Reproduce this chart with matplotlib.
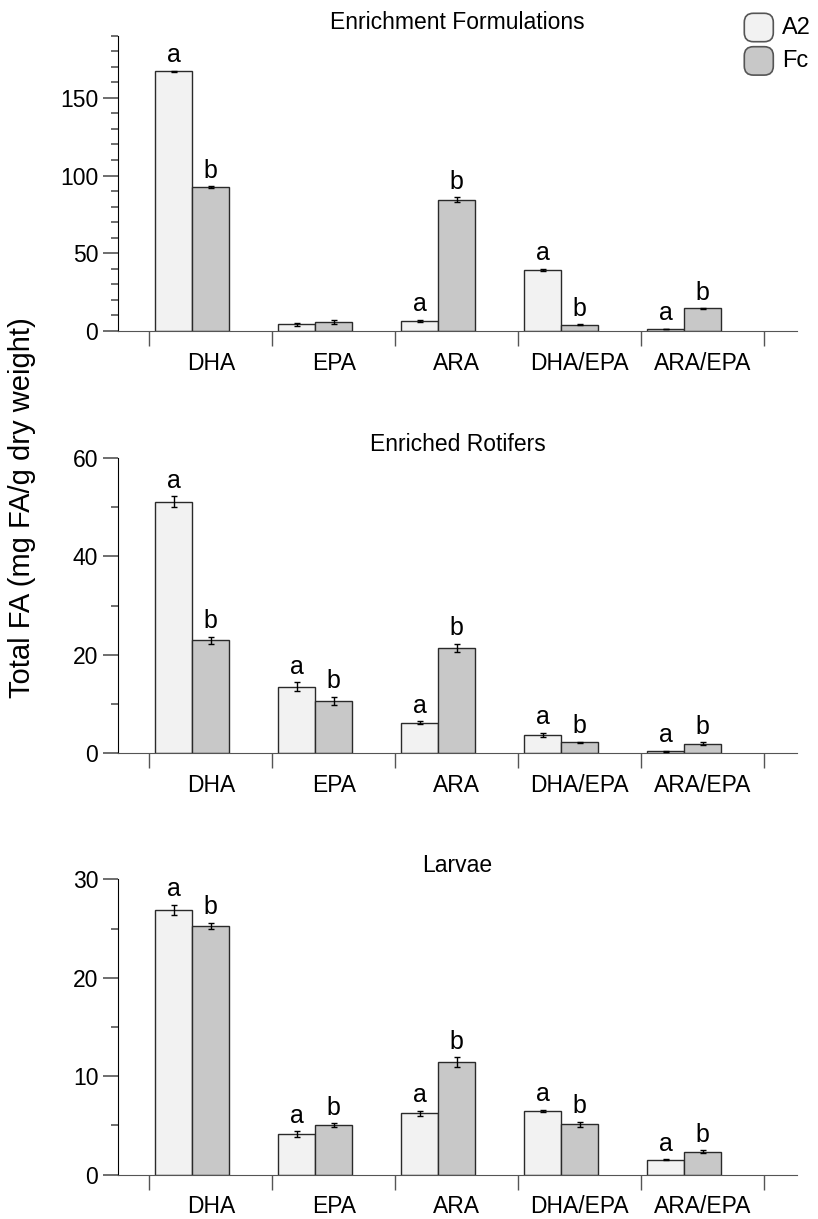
import numpy as np
import matplotlib.pyplot as plt
from matplotlib.patches import FancyBboxPatch
from matplotlib.ticker import MultipleLocator, FixedLocator

plt.rcParams["font.family"] = ["Liberation Sans", "DejaVu Sans"]

categories = ["DHA", "EPA", "ARA", "DHA/EPA", "ARA/EPA"]
groups = ["A2", "Fc"]
titles = ["Enrichment Formulations", "Enriched Rotifers", "Larvae"]

# Enrichment formulations
form_a2 = [167.0, 4.2, 6.5, 39.5, 1.2]
form_a2_err = [0.5, 1.0, 0.6, 0.6, 0.2]
form_fc = [92.6, 6.0, 84.5, 4.0, 14.5]
form_fc_err = [0.6, 1.2, 1.5, 0.2, 0.3]
form_a2_letters = ["a", "", "a", "a", "a"]
form_fc_letters = ["b", "", "b", "b", "b"]

# Enriched rotifers
rot_a2 = [51.1, 13.5, 6.2, 3.8, 0.4]
rot_a2_err = [1.1, 0.9, 0.3, 0.4, 0.1]
rot_fc = [22.9, 10.7, 21.4, 2.2, 1.9]
rot_fc_err = [0.8, 0.8, 0.8, 0.1, 0.3]
rot_a2_letters = ["a", "a", "a", "a", "a"]
rot_fc_letters = ["b", "b", "b", "b", "b"]

# Larvae
lar_a2 = [26.9, 4.1, 6.2, 6.5, 1.5]
lar_a2_err = [0.5, 0.3, 0.3, 0.1, 0.05]
lar_fc = [25.3, 5.0, 11.4, 5.1, 2.3]
lar_fc_err = [0.3, 0.2, 0.5, 0.25, 0.15]
lar_a2_letters = ["a", "a", "a", "a", "a"]
lar_fc_letters = ["b", "b", "b", "b", "b"]

ylims = [190, 60, 30]
major_steps = [50, 20, 10]
minor_steps = [10, 10, 5]

panels = [
    (form_a2, form_a2_err, form_fc, form_fc_err, form_a2_letters, form_fc_letters),
    (rot_a2, rot_a2_err, rot_fc, rot_fc_err, rot_a2_letters, rot_fc_letters),
    (lar_a2, lar_a2_err, lar_fc, lar_fc_err, lar_a2_letters, lar_fc_letters),
]

W, H = 818, 1219
fig = plt.figure(figsize=(W / 100, H / 100), dpi=100)

left = 118.3 / W
width = (796.7 - 118.3) / W
boxes = [(331.0, 35.7), (753.3, 457.7), (1174.5, 879.3)]

col_a2 = "#f2f2f2"
col_fc = "#c8c8c8"
edge = "#2a2a2a"
grey = "#555555"
bw = 0.30
x = np.arange(len(categories))

for i, (a2, a2e, fc, fce, la, lb) in enumerate(panels):
    y0, y1 = boxes[i]
    ax = fig.add_axes([left, 1 - y0 / H, width, (y0 - y1) / H])
    ax.bar(x - bw, a2, bw, color=col_a2, edgecolor=edge, linewidth=1, zorder=2)
    ax.bar(x, fc, bw, color=col_fc, edgecolor=edge, linewidth=1, zorder=2)
    ax.errorbar(x - bw, a2, yerr=a2e, fmt="none", ecolor="black",
                elinewidth=1, capsize=2, capthick=1, zorder=3)
    ax.errorbar(x, fc, yerr=fce, fmt="none", ecolor="black",
                elinewidth=1, capsize=2, capthick=1, zorder=3)
    for xi, v, e, t in zip(x - bw, a2, a2e, la):
        if t:
            ax.annotate(t, (xi, v + e), xytext=(0, 2.5), textcoords="offset points",
                        ha="center", va="bottom", fontsize=18)
    for xi, v, e, t in zip(x, fc, fce, lb):
        if t:
            ax.annotate(t, (xi, v + e), xytext=(0, 2.5), textcoords="offset points",
                        ha="center", va="bottom", fontsize=18)

    ax.set_xlim(-0.752, 4.763)
    ax.set_ylim(0, ylims[i])
    ax.spines["top"].set_visible(False)
    ax.spines["right"].set_visible(False)
    ax.spines["bottom"].set_color(grey)
    ax.spines["left"].set_color("black")

    ax.set_xticks(x)
    ax.set_xticklabels(categories, fontsize=16.5)
    ax.xaxis.set_minor_locator(FixedLocator(np.arange(-0.5, 5, 1.0)))
    ax.tick_params(axis="x", which="major", length=0, pad=14.8)
    ax.tick_params(axis="x", which="minor", length=10.8, width=1, color=grey)

    ax.yaxis.set_major_locator(MultipleLocator(major_steps[i]))
    ax.yaxis.set_minor_locator(MultipleLocator(minor_steps[i]))
    ax.tick_params(axis="y", which="major", length=10.8, width=1.2, color=grey,
                   pad=3.6, labelsize=16.5)
    ax.tick_params(axis="y", which="minor", length=5.3, width=1.2, color=grey)
    ax.set_title(titles[i], fontsize=16.5, pad=5)

fig.text(22 / W, 1 - 508 / H, "Total FA (mg FA/g dry weight)", rotation=90,
         ha="center", va="center", fontsize=21)

# legend boxes
for j, (lab, c) in enumerate(zip(groups, [col_a2, col_fc])):
    yt = 13.3 + j * 33.4
    box = FancyBboxPatch((744.3 / W, 1 - (yt + 28.4) / H), 29 / W, 28.4 / H,
                         boxstyle="round,pad=0,rounding_size=0.011",
                         transform=fig.transFigure, facecolor=c,
                         edgecolor=grey, linewidth=1.2, mutation_aspect=W / H)
    fig.add_artist(box)
    fig.text(781.7 / W, 1 - (yt + 14.2) / H, lab, ha="left", va="center", fontsize=17)

plt.savefig("out.png", dpi=100)
